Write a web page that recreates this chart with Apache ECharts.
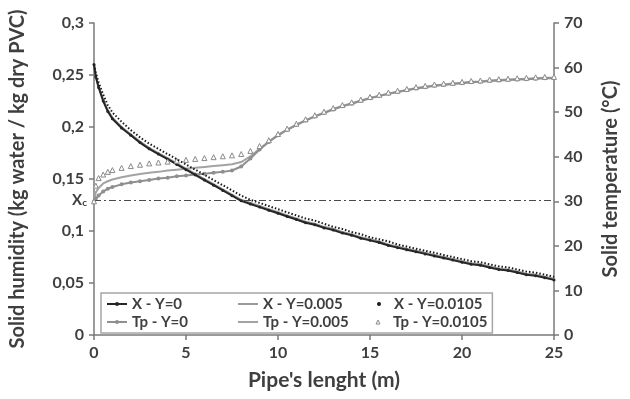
<!DOCTYPE html>
<html>
<head>
<meta charset="utf-8">
<script src="https://cdn.jsdelivr.net/npm/echarts@6/dist/echarts.min.js"></script>
<style>
  html, body { margin: 0; padding: 0; background: #fff; }
  #chart { width: 630px; height: 399px; }
</style>
</head>
<body>
<div id="chart"></div>
<script>
// Position along the pipe (m)
const pipeLength = [0, 0.1, 0.25, 0.5, 0.75, 1, 1.5, 2, 2.5, 3, 3.5, 4, 4.5, 5, 5.5, 6, 6.5, 7, 7.5, 8, 8.5, 9, 9.5,
  10, 10.5, 11, 11.5, 12, 12.5, 13, 13.5, 14, 14.5, 15, 15.5, 16, 16.5, 17, 17.5, 18, 18.5, 19, 19.5,
  20, 20.5, 21, 21.5, 22, 22.5, 23, 23.5, 24, 24.5, 25];

// Solid humidity X (kg water / kg dry PVC) for each inlet air humidity Y
const humidityY0 = [0.260, 0.248, 0.238, 0.225, 0.215, 0.208, 0.199, 0.192, 0.185, 0.179, 0.174, 0.169, 0.164, 0.159, 0.154, 0.149, 0.144, 0.139, 0.134, 0.129, 0.126, 0.123, 0.120,
  0.117, 0.114, 0.111, 0.108, 0.106, 0.103, 0.101, 0.098, 0.096, 0.093, 0.091, 0.089, 0.086, 0.084, 0.082, 0.080, 0.078, 0.076, 0.074, 0.072,
  0.070, 0.068, 0.067, 0.065, 0.063, 0.062, 0.060, 0.058, 0.057, 0.055, 0.053];
const humidityY005 = [0.260, 0.249, 0.239, 0.226, 0.216, 0.209, 0.200, 0.193, 0.186, 0.180, 0.175, 0.170, 0.165, 0.160, 0.155, 0.150, 0.145, 0.140, 0.135, 0.130, 0.127, 0.124, 0.121,
  0.118, 0.115, 0.112, 0.109, 0.107, 0.104, 0.102, 0.099, 0.097, 0.094, 0.092, 0.090, 0.087, 0.085, 0.083, 0.081, 0.079, 0.077, 0.075, 0.073,
  0.071, 0.069, 0.068, 0.066, 0.064, 0.063, 0.061, 0.059, 0.058, 0.056, 0.054];
const humidityY0105 = [0.260, 0.252, 0.243, 0.231, 0.221, 0.214, 0.205, 0.197, 0.190, 0.184, 0.179, 0.174, 0.169, 0.164, 0.159, 0.154, 0.149, 0.144, 0.139, 0.134, 0.130, 0.127, 0.124,
  0.121, 0.118, 0.115, 0.112, 0.110, 0.107, 0.104, 0.102, 0.099, 0.097, 0.094, 0.092, 0.090, 0.087, 0.085, 0.083, 0.081, 0.079, 0.077, 0.075,
  0.073, 0.071, 0.070, 0.068, 0.066, 0.065, 0.063, 0.061, 0.060, 0.058, 0.056];

// Solid temperature Tp (°C)
const tempY0 = [30.0, 30.6, 31.3, 32.2, 32.8, 33.2, 33.8, 34.2, 34.5, 34.8, 35.1, 35.3, 35.6, 35.8, 36.0, 36.2, 36.4, 36.6, 36.9, 37.8, 39.6, 41.6, 43.3,
  44.8, 46.0, 47.1, 48.1, 49.0, 49.8, 50.6, 51.3, 51.9, 52.5, 53.1, 53.6, 54.1, 54.5, 54.9, 55.3, 55.6, 55.9, 56.1, 56.3,
  56.5, 56.7, 56.8, 57.0, 57.1, 57.2, 57.3, 57.4, 57.5, 57.6, 57.6];
const tempY005 = [30.3, 32.0, 33.0, 34.0, 34.5, 34.9, 35.4, 35.8, 36.1, 36.4, 36.6, 36.9, 37.1, 37.3, 37.5, 37.7, 37.9, 38.1, 38.3, 38.8, 40.1, 41.8, 43.4,
  44.9, 46.1, 47.2, 48.2, 49.1, 49.9, 50.7, 51.4, 52.0, 52.6, 53.2, 53.7, 54.2, 54.6, 55.0, 55.4, 55.7, 56.0, 56.2, 56.4,
  56.6, 56.8, 56.9, 57.1, 57.2, 57.3, 57.4, 57.5, 57.6, 57.7, 57.7];
const tempY0105 = [30.0, 33.5, 35.2, 36.0, 36.6, 37.0, 37.5, 37.9, 38.2, 38.5, 38.7, 38.9, 39.1, 39.3, 39.5, 39.7, 39.9, 40.1, 40.3, 40.6, 41.3, 42.4, 43.7,
  45.1, 46.3, 47.4, 48.4, 49.3, 50.1, 50.9, 51.6, 52.2, 52.8, 53.4, 53.9, 54.4, 54.8, 55.2, 55.6, 55.9, 56.2, 56.4, 56.6,
  56.8, 57.0, 57.1, 57.3, 57.4, 57.5, 57.6, 57.7, 57.8, 57.9, 57.9];

// Critical moisture content
const criticalHumidity = 0.13;

const seriesNames = ['X - Y=0', 'X - Y=0.005', 'X - Y=0.0105', 'Tp - Y=0', 'Tp - Y=0.005', 'Tp - Y=0.0105'];

const pairs = arr => pipeLength.map((m, i) => [m, arr[i]]);

const FONT = 'Lato';
const TXT = '#3f3f3f';
const AXIS = '#7a7a7a';

const chart = echarts.init(document.getElementById('chart'), null, { renderer: 'canvas' });

const axisCommon = {
  axisLine: { show: true, lineStyle: { color: AXIS, width: 1.5 } },
  axisTick: { show: true, inside: false, length: 5, lineStyle: { color: AXIS, width: 1.5 } },
  splitLine: { show: false },
  nameTextStyle: { fontFamily: FONT, fontWeight: 'bold', fontSize: 20, color: TXT },
  axisLabel: { fontFamily: FONT, fontWeight: 'bold', fontSize: 16, color: TXT }
};

// third legend column is narrower so the frame closes just after its text
const lastColText = { width: 88 };
const hollowTriangle = { color: '#ffffff', borderColor: '#8a8a8a', borderWidth: 1 };

chart.setOption({
  animation: false,
  backgroundColor: '#fff',
  grid: { left: 93, right: 76, top: 23, bottom: 64 },
  legend: {
    left: 101, top: 293, width: 400,
    orient: 'horizontal',
    padding: [3, 5, 3, 5],
    itemGap: 2,
    itemWidth: 20, itemHeight: 5,
    backgroundColor: '#fff',
    borderColor: '#a6a6a6', borderWidth: 1.5, borderRadius: 0,
    textStyle: { fontFamily: FONT, fontWeight: 'bold', fontSize: 15, color: TXT, width: 103, lineHeight: 16 },
    data: [
      { name: seriesNames[0] },
      { name: seriesNames[1], itemStyle: { opacity: 0 } },
      { name: seriesNames[2], lineStyle: { opacity: 0 }, textStyle: lastColText },
      { name: seriesNames[3] },
      { name: seriesNames[4], itemStyle: { opacity: 0 } },
      { name: seriesNames[5], lineStyle: { opacity: 0 }, itemStyle: hollowTriangle, textStyle: lastColText }
    ]
  },
  xAxis: Object.assign({}, axisCommon, {
    type: 'value', min: 0, max: 25, interval: 5,
    name: "Pipe's lenght (m)", nameLocation: 'middle', nameGap: 35,
    nameTextStyle: Object.assign({}, axisCommon.nameTextStyle, { fontSize: 21 }),
    axisLabel: Object.assign({}, axisCommon.axisLabel, { margin: 10 })
  }),
  yAxis: [
    Object.assign({}, axisCommon, {
      type: 'value', min: 0, max: 0.3, interval: 0.05, position: 'left',
      name: 'Solid humidity (kg water / kg dry PVC)', nameLocation: 'middle', nameGap: 66,
      axisLabel: Object.assign({}, axisCommon.axisLabel, {
        margin: 10,
        formatter: v => String(Math.round(v * 100) / 100).replace('.', ',')
      })
    }),
    Object.assign({}, axisCommon, {
      type: 'value', min: 0, max: 70, interval: 10, position: 'right',
      name: 'Solid temperature (°C)', nameLocation: 'middle', nameGap: 47,
      nameRotate: 90,
      axisLabel: Object.assign({}, axisCommon.axisLabel, { margin: 10 })
    })
  ],
  series: [
    {
      name: seriesNames[0], type: 'line', yAxisIndex: 0, data: pairs(humidityY0), z: 5,
      symbol: 'circle', symbolSize: 3, showSymbol: true,
      lineStyle: { color: '#262626', width: 2 }, itemStyle: { color: '#262626' },
      markLine: {
        silent: true, symbol: 'none',
        lineStyle: { color: '#4a4a4a', width: 1, type: [7, 3, 2, 3] },
        label: {
          show: true, position: 'start', distance: 7,
          formatter: '{x|X}{c|c}',
          rich: {
            x: { fontFamily: FONT, fontWeight: 'bold', fontSize: 15, color: TXT },
            c: { fontFamily: FONT, fontWeight: 'bold', fontSize: 10, color: TXT, verticalAlign: 'bottom', padding: [6, 0, 0, 0] }
          }
        },
        data: [{ yAxis: criticalHumidity }]
      }
    },
    {
      name: seriesNames[1], type: 'line', yAxisIndex: 0, data: pairs(humidityY005), z: 4,
      symbol: 'circle', showSymbol: false,
      lineStyle: { color: '#9a9a9a', width: 2 }, itemStyle: { color: '#9a9a9a' }
    },
    {
      name: seriesNames[2], type: 'line', yAxisIndex: 0, data: pairs(humidityY0105), z: 6,
      symbol: 'circle', showSymbol: false,
      lineStyle: { color: '#1a1a1a', width: 2, type: [1.5, 2] }, itemStyle: { color: '#1a1a1a' }
    },
    {
      name: seriesNames[3], type: 'line', yAxisIndex: 1, data: pairs(tempY0), z: 4,
      symbol: 'circle', symbolSize: 4, showSymbol: true,
      lineStyle: { color: '#8f8f8f', width: 2 }, itemStyle: { color: '#8f8f8f' }
    },
    {
      name: seriesNames[4], type: 'line', yAxisIndex: 1, data: pairs(tempY005), z: 3,
      symbol: 'circle', showSymbol: false,
      lineStyle: { color: '#a3a3a3', width: 2 }, itemStyle: { color: '#a3a3a3' }
    },
    {
      name: seriesNames[5], type: 'line', yAxisIndex: 1, data: pairs(tempY0105), z: 5,
      symbol: 'triangle', symbolSize: 5, showSymbol: true,
      lineStyle: { color: '#9a9a9a', width: 0, opacity: 0 },
      itemStyle: hollowTriangle
    }
  ]
});
</script>
</body>
</html>
